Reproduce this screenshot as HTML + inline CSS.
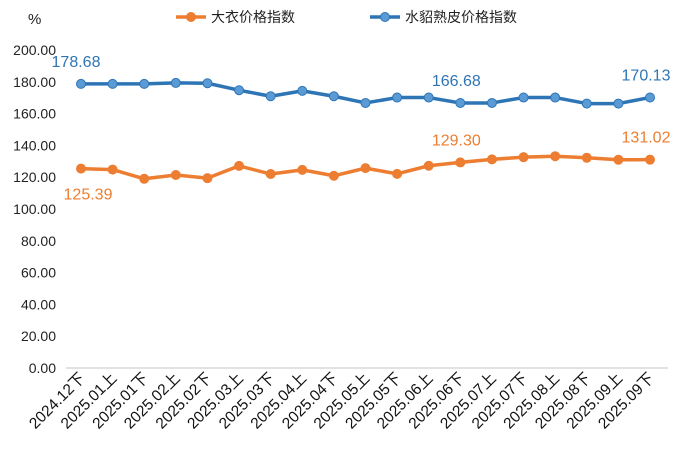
<!DOCTYPE html>
<html><head><meta charset="utf-8"><style>
body{margin:0;background:#fff;}
svg{display:block;font-family:"Liberation Sans","Noto Sans CJK SC",sans-serif;}
</style></head><body>
<svg id="c" width="680" height="451"></svg>
<script>
const categories=["2024.12下","2025.01上","2025.01下","2025.02上","2025.02下","2025.03上","2025.03下","2025.04上","2025.04下","2025.05上","2025.05下","2025.06上","2025.06下","2025.07上","2025.07下","2025.08上","2025.08下","2025.09上","2025.09下"];
const coatValues=[125.39,124.8,119.0,121.4,119.4,127.1,122.0,124.6,120.9,125.7,122.1,127.2,129.30,131.2,132.6,133.2,132.2,131.0,131.02];
const minkValues=[178.68,178.7,178.7,179.3,179.1,174.7,170.9,174.3,170.9,166.7,170.1,170.1,166.68,166.7,170.1,170.1,166.3,166.3,170.13];
const yTicks=[0,20,40,60,80,100,120,140,160,180,200];
const coatLabelIdx=[0,12,18];
const minkLabelIdx=[0,12,18];
const NS="http://www.w3.org/2000/svg";
const svg=document.getElementById('c');
const x0=81,x1=650,yb=368,yt=50;
const xs=i=>x0+(x1-x0)*i/(categories.length-1);
const ys=v=>yb-(yb-yt)*v/200;
function mk(t,a,p){const e=document.createElementNS(NS,t);for(const k in a)e.setAttribute(k,a[k]);(p||svg).appendChild(e);return e;}
yTicks.forEach(v=>{const t=mk('text',{x:56,y:ys(v)+5,'text-anchor':'end','font-size':14,fill:'#222'});t.textContent=v.toFixed(2);

});
const ax=mk('line',{x1:66,x2:668,y1:yb,y2:yb,stroke:'#d9d9d9','stroke-width':1.5});


const pc=mk('text',{x:28,y:24,'font-size':15,fill:'#222'});pc.textContent='%';


categories.forEach((c,i)=>{const x=xs(i)+5,y=379;const t=mk('text',{x:x,y:y,'text-anchor':'end','font-size':15.5,fill:'#111',transform:`rotate(-45 ${x} ${y})`});t.textContent=c;

});
function series(vals,color,name,lblIdx,below){
 const g=mk('g',{});
 
 
 const l=mk('polyline',{points:vals.map((v,i)=>xs(i)+','+ys(v)).join(' '),fill:'none',stroke:color,'stroke-width':3.5,'stroke-linejoin':'round'},g);
 
 
 vals.forEach((v,i)=>{const p=mk('circle',{cx:xs(i),cy:ys(v),r:4.5,fill:color==='#2e75b6'?'#5b9bd5':'#ed7d31',stroke:color,'stroke-width':1},g);
 
 });
 lblIdx.forEach(i=>{const b=below&&i===0;const t=mk('text',{x:xs(i)+(b?7:(i===0?-5:-4)),y:b?ys(vals[i])+31:ys(vals[i])-17,'text-anchor':'middle','font-size':16,fill:color==='#2e75b6'?'#2e75b6':'#ed7d31'},g);t.textContent=vals[i].toFixed(2);
 
 });
}
series(minkValues,'#2e75b6','mink-leather-index',minkLabelIdx,false);
series(coatValues,'#ed7d31','coat-index',coatLabelIdx,true);
function legend(x,color,fill,label,name){const g=mk('g',{});
 
 
 mk('line',{x1:x,x2:x+30,y1:17,y2:17,stroke:color,'stroke-width':3.5},g);
 mk('circle',{cx:x+15,cy:17,r:4.5,fill:fill,stroke:color},g);
 const t=mk('text',{x:x+35,y:22,'font-size':14,fill:'#222'},g);t.textContent=label;}
legend(176,'#ed7d31','#ed7d31','大衣价格指数','legend-coat');
legend(370,'#2e75b6','#5b9bd5','水貂熟皮价格指数','legend-mink');
</script>
</body></html>
